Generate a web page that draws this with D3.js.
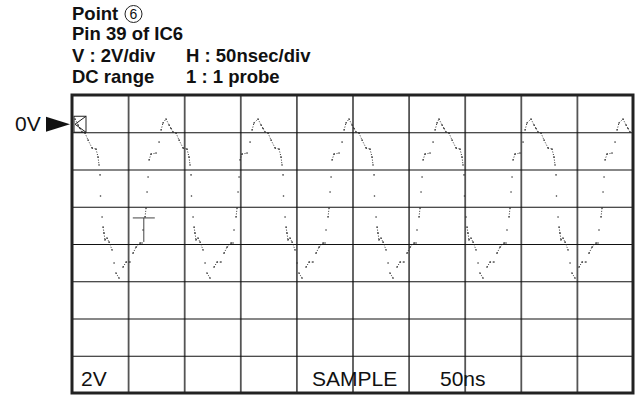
<!DOCTYPE html>
<html>
<head>
<meta charset="utf-8">
<script src="https://cdn.jsdelivr.net/npm/d3@7"></script>
<style>
  body { margin: 0; background: #fff; }
  svg { display: block; font-family: "Liberation Sans", Arial, Helvetica, sans-serif; }
</style>
</head>
<body>
<div id="chart"></div>
<script>
// header text
var headerLeft = ["Point", "Pin 39 of IC6", "V : 2V/div", "DC range"];
var headerRight = ["", "", "H : 50nsec/div", "1 : 1 probe"];
var pointNo = "6";

// screen: 10 div x 50ns, 8 div x 2V (0V one div below top)
var timeTicks = [0, 50, 100, 150, 200, 250, 300, 350, 400, 450, 500];
var voltTicks = [2, 0, -2, -4, -6, -8, -10, -12, -14];

// one period of the trace, [ns after the peak, volts]
var cycleShape = [
  [0, 0.71], [2.7, 0.39], [4.5, 0.2], [6.2, 0.01], [8.9, -0.04], [11.6, -0.42],
  [15.2, -0.85], [18.7, -0.90], [20.5, -1.33], [21.4, -1.76], [22.3, -2.29],
  [22.7, -3.42], [24.1, -4.55], [25.0, -5.09], [25.8, -5.41], [26.7, -5.78],
  [28.5, -5.68], [30.3, -5.89], [33.0, -6.32], [34.8, -7.02], [36.5, -7.56],
  [39.2, -7.83], [42.8, -7.24], [45.5, -6.97], [49.0, -6.97], [51.7, -6.49],
  [54.4, -6.17], [57.9, -5.95], [59.7, -5.95], [60.6, -5.25], [62.4, -4.55],
  [63.3, -4.07], [64.2, -3.21], [65.1, -2.40], [66.0, -1.49], [67.7, -1.17],
  [72.2, -1.12], [74.9, -0.53], [76.7, 0.12], [78.4, 0.50]
];
// where each peak sits on screen (ns)
var peakTimes = [2.7, 83.8, 165.8, 246.9, 327.1, 409.1, 491.1];

// trigger marker
var triggerTime = 64;
var triggerLevel = -4.6;

var bottomLabels = ["2V", "SAMPLE", "50ns"];

// set the dimensions and margins of the graph
var W = 640, H = 399;
var margin = {top: 95, right: 7, bottom: 6, left: 72},
    width = W - margin.left - margin.right,
    height = H - margin.top - margin.bottom;

var x = d3.scaleLinear().domain([0, 500]).range([0, width]);
var y = d3.scaleLinear().domain([-14, 2]).range([height, 0]);

var svg = d3.select("#chart").append("svg")
    .attr("width", W)
    .attr("height", H);

// header
var head = svg.append("g").attr("fill", "#111").attr("font-weight", "bold").attr("font-size", "18.5px");
var baselines = [19.5, 39.5, 61.5, 83];
headerLeft.forEach(function(t, i) {
  head.append("text").attr("x", 72).attr("y", baselines[i]).text(t);
  if (headerRight[i]) head.append("text").attr("x", 186).attr("y", baselines[i]).text(headerRight[i]);
});
svg.append("circle").attr("cx", 133.5).attr("cy", 14).attr("r", 8.5)
    .attr("fill", "none").attr("stroke", "#222").attr("stroke-width", 1);
svg.append("text").attr("x", 133.5).attr("y", 19).attr("text-anchor", "middle")
    .attr("font-size", "14px").attr("fill", "#111").text(pointNo);

var g = svg.append("g").attr("transform", "translate(" + margin.left + "," + margin.top + ")");

// grid via axes
g.append("g")
    .attr("class", "vgrid")
    .attr("transform", "translate(0," + height + ")")
    .call(d3.axisBottom(x).tickValues(timeTicks.slice(1, -1)).tickSize(height).tickSizeOuter(0).tickFormat(""))
    .call(function(s) {
      s.select(".domain").remove();
      s.selectAll("line").attr("y2", -height).attr("stroke", "#555").attr("stroke-width", 1.8);
    });

g.append("g")
    .attr("class", "hgrid")
    .call(d3.axisLeft(y).tickValues(voltTicks.slice(1, -1)).tickSize(-width).tickSizeOuter(0).tickFormat(""))
    .call(function(s) {
      s.select(".domain").remove();
      s.selectAll("line").attr("stroke", "#111").attr("stroke-width", 1.2);
    });

// trace points
var pts = [];
peakTimes.forEach(function(p) {
  cycleShape.forEach(function(c) {
    var t = p + c[0];
    if (t >= 0 && t <= 500) pts.push({t: t, v: c[1]});
  });
});
pts.sort(function(a, b) { return a.t - b.t; });

var trace = g.append("g").attr("class", "trace");
for (var i = 1; i < pts.length; i++) {
  var a = pts[i - 1], b = pts[i];
  var dx = x(b.t) - x(a.t), dy = y(b.v) - y(a.v);
  if (Math.sqrt(dx * dx + dy * dy) < 9) {
    trace.append("line")
        .attr("x1", x(a.t)).attr("y1", y(a.v))
        .attr("x2", x(b.t)).attr("y2", y(b.v))
        .attr("stroke", "#333").attr("stroke-width", 1)
        .attr("stroke-dasharray", "1,1.6");
  }
}
trace.selectAll("circle").data(pts).enter().append("circle")
    .attr("cx", function(d) { return x(d.t); })
    .attr("cy", function(d) { return y(d.v); })
    .attr("r", 0.8)
    .attr("fill", "#333");

// trigger marker
g.append("line").attr("x1", x(triggerTime) - 11).attr("x2", x(triggerTime) + 11)
    .attr("y1", y(triggerLevel)).attr("y2", y(triggerLevel))
    .attr("stroke", "#444").attr("stroke-width", 1);
g.append("line").attr("x1", x(triggerTime)).attr("x2", x(triggerTime))
    .attr("y1", y(triggerLevel)).attr("y2", y(triggerLevel) + 24)
    .attr("stroke", "#444").attr("stroke-width", 1);

// ground marker box
var gy = y(0);
g.append("rect").attr("x", x(0) + 2).attr("y", gy - 16).attr("width", 12).attr("height", 16)
    .attr("fill", "none").attr("stroke", "#222").attr("stroke-width", 1);
g.append("path")
    .attr("d", "M" + (x(0) + 14) + "," + (gy - 16) + "L" + (x(0) + 3) + "," + (gy - 8) + "L" + (x(0) + 14) + "," + gy)
    .attr("fill", "none").attr("stroke", "#222").attr("stroke-width", 1);

// frame
g.append("rect").attr("width", width).attr("height", height)
    .attr("fill", "none").attr("stroke", "#222").attr("stroke-width", 3);

// 0V label and arrow
svg.append("text").attr("x", 15).attr("y", margin.top + gy - 1)
    .attr("font-size", "21px").attr("fill", "#111").text("0V");
svg.append("path")
    .attr("d", "M46," + (margin.top + gy - 15.5) + "L70," + (margin.top + gy - 8) + "L46," + (margin.top + gy - 0.5) + "Z")
    .attr("fill", "#111");

// bottom labels
var labelX = [81, 312, 440];
bottomLabels.forEach(function(t, i) {
  svg.append("text").attr("x", labelX[i]).attr("y", 386)
      .attr("font-size", "21px").attr("fill", "#111").text(t);
});
</script>
</body>
</html>
